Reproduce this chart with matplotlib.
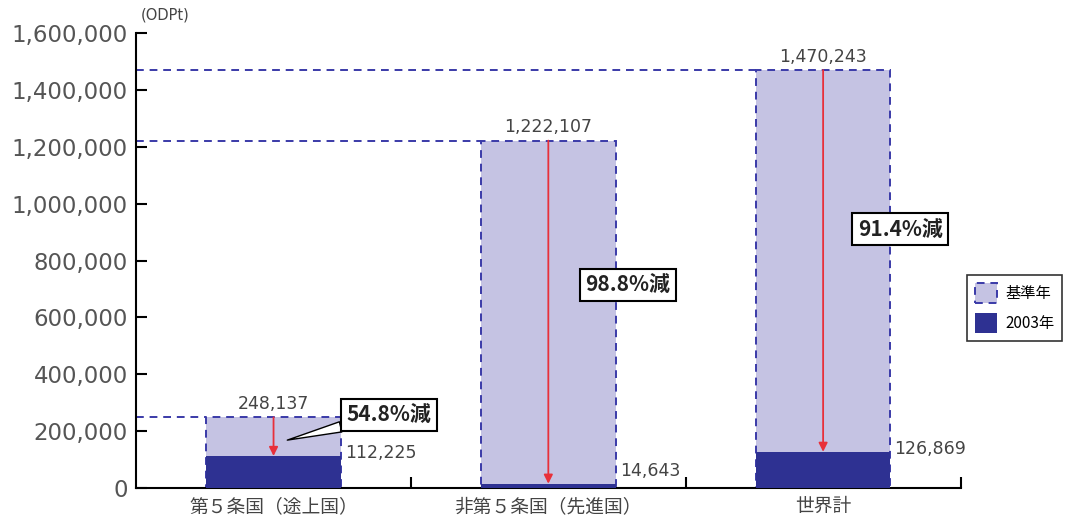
import matplotlib.pyplot as plt

plt.rcParams['font.family'] = ['Noto Sans CJK JP', 'DejaVu Sans']

categories = ["第５条国（途上国）", "非第５条国（先進国）", "世界計"]
base_year = [248137, 1222107, 1470243]
year_2003 = [112225, 14643, 126869]
reduction = ["54.8%減", "98.8%減", "91.4%減"]
y_ticks = [0, 200000, 400000, 600000, 800000, 1000000, 1200000, 1400000, 1600000]

light = "#c5c3e3"
dark = "#2e3192"
edge = "#3a3aa8"
red = "#e8303a"
num_font = ["DejaVu Sans"]

fig = plt.figure(figsize=(10.72, 5.19), dpi=100)
ax = fig.add_axes([0.127, 0.06, 0.769, 0.876])

x = [i + 0.5 for i in range(len(categories))]
w = 0.49

ax.bar(x, base_year, width=w, color=light, edgecolor=edge, linestyle=(0, (4, 3)),
       linewidth=1.4, label="基準年", zorder=2)
ax.bar(x, year_2003, width=w, color=dark, edgecolor="none", label="2003年", zorder=3)

for xi, b, v in zip(x, base_year, year_2003):
    # dashed guide from axis to bar top
    ax.hlines(b, 0, xi - w / 2, colors=edge, linestyles=(0, (4, 3)), linewidth=1.4, zorder=1)
    ax.annotate("", xy=(xi, v), xytext=(xi, b),
                arrowprops=dict(arrowstyle="-|>", color=red, lw=1.3, mutation_scale=13,
                                shrinkA=0, shrinkB=0), zorder=4)
    ax.annotate(f"{b:,}", xy=(xi, b), xytext=(0, 3), textcoords="offset points",
                ha="center", va="bottom", fontsize=12.5, color="#444444", family=num_font)

for i, (xi, v) in enumerate(zip(x, year_2003)):
    dy = 9 if i == 1 else 2
    ax.annotate(f"{v:,}", xy=(xi + w / 2, v), xytext=(3, dy), textcoords="offset points",
                ha="left", va="center", fontsize=12.5, color="#444444", family=num_font)

box = dict(boxstyle="square,pad=0.25", fc="white", ec="black", lw=1.5)
ax.annotate(reduction[0], xy=(0.55, 168000), xytext=(0.92, 257000),
            ha="center", va="center", fontsize=15, fontweight="bold", color="#222222",
            bbox=box, zorder=6,
            arrowprops=dict(arrowstyle="wedge,tail_width=0.5", fc="white", ec="black",
                            lw=1.0, shrinkA=0, shrinkB=0))
ax.text(1.79, 714000, reduction[1], ha="center", va="center", fontsize=15,
        fontweight="bold", color="#222222", bbox=box, zorder=6)
ax.text(2.78, 911000, reduction[2], ha="center", va="center", fontsize=15,
        fontweight="bold", color="#222222", bbox=box, zorder=6)

ax.set_xlim(0, 3)
ax.set_ylim(0, 1600000)
ax.set_yticks(y_ticks)
ax.set_yticklabels([f"{t:,}" for t in y_ticks], family=num_font)
ax.set_xticks([1, 2, 3])
ax.set_xticklabels([])
ax.set_xticks(x, minor=True)
ax.set_xticklabels(categories, minor=True)

for s in ["top", "right"]:
    ax.spines[s].set_visible(False)
for s in ["left", "bottom"]:
    ax.spines[s].set_linewidth(1.5)

ax.tick_params(axis="y", direction="in", length=8, width=1.5, labelsize=16.5,
               labelcolor="#555555", pad=6)
ax.tick_params(axis="x", which="major", direction="in", length=8, width=1.5)
ax.tick_params(axis="x", which="minor", length=0, labelsize=13.5, labelcolor="#444444", pad=6)

fig.text(0.131, 0.962, "(ODPt)", fontsize=10.5, color="#444444", family=num_font)

leg = fig.legend(loc="upper left", bbox_to_anchor=(0.902, 0.47), fontsize=11,
                 frameon=True, fancybox=False, edgecolor="black", handlelength=1.5,
                 handleheight=1.7, handletextpad=0.5, borderpad=0.5, labelspacing=0.6,
                 borderaxespad=0)
leg.get_frame().set_linewidth(1.2)

fig.savefig("out.png", dpi=100)
